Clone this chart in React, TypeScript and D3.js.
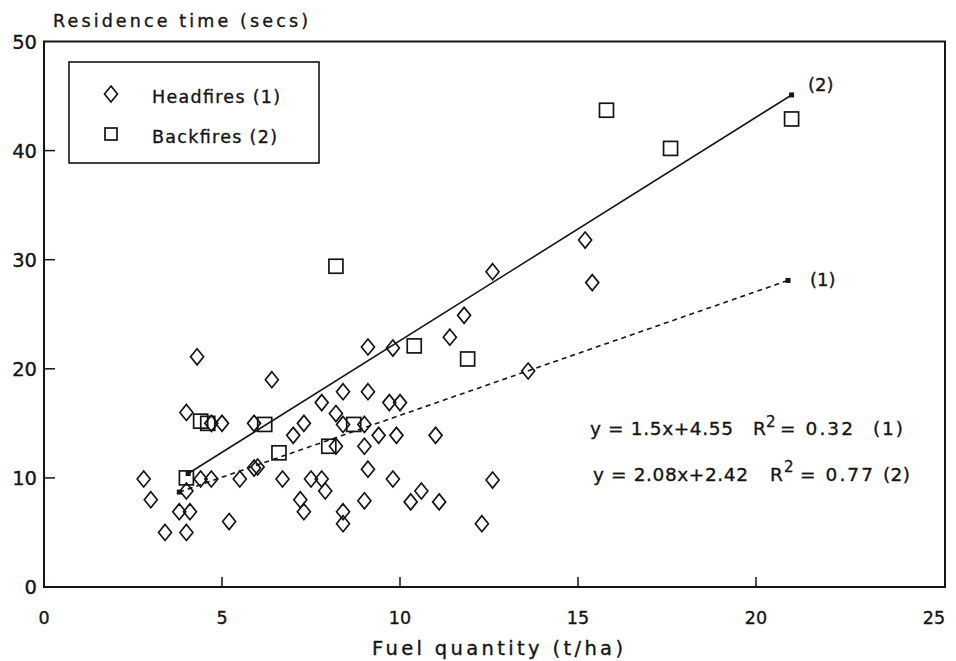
import React from 'react';
import * as d3 from 'd3';

// Headfires (1): [fuel t/ha, residence secs]
const headfires: [number, number][] = [
    [2.8, 9.9], [3.0, 8.0], [3.4, 5.0], [4.0, 5.0], [3.8, 6.9], [4.1, 6.9],
    [4.0, 8.8], [4.0, 16.0], [4.3, 21.1], [4.4, 9.9], [4.7, 9.9], [4.7, 15.0],
    [5.0, 15.0], [5.2, 6.0], [5.5, 9.9], [5.9, 15.0], [6.0, 11.0], [5.9, 10.9],
    [6.4, 19.0], [6.7, 9.9], [7.0, 13.9], [7.2, 8.0], [7.3, 6.9], [7.3, 15.0],
    [7.5, 9.9], [7.8, 9.9], [7.9, 8.8], [7.8, 16.9], [8.2, 15.9], [8.2, 12.9],
    [8.4, 17.9], [8.4, 14.9], [8.4, 6.9], [8.4, 5.8], [9.0, 14.9], [9.0, 12.9],
    [9.1, 22.0], [9.1, 10.8], [9.0, 7.9], [9.1, 17.9], [9.4, 13.9], [9.7, 16.9],
    [10.0, 16.9], [9.8, 21.9], [9.8, 9.9], [9.9, 13.9], [10.3, 7.8], [10.6, 8.8],
    [11.0, 13.9], [11.1, 7.8], [11.4, 22.9], [11.8, 24.9], [12.3, 5.8], [12.6, 28.9],
    [12.6, 9.8], [13.6, 19.8], [15.2, 31.8], [15.4, 27.9]
];

// Backfires (2)
const backfires: [number, number][] = [
    [4.0, 10.0], [4.4, 15.2], [4.6, 15.0], [6.2, 14.9], [6.6, 12.3], [8.0, 12.9],
    [8.7, 14.9], [8.2, 29.4], [10.4, 22.1], [11.9, 20.9], [15.8, 43.7], [17.6, 40.2],
    [21.0, 42.9]
];

// regression lines as drawn (end points)
const fitHead: [number, number][] = [[3.8, 8.7], [20.9, 28.1]];
const fitBack: [number, number][] = [[4.05, 10.4], [21.0, 45.1]];

const xTicks = [0, 5, 10, 15, 20, 25];
const yTicks = [0, 10, 20, 30, 40, 50];

const FONT = "'DejaVu Sans', sans-serif";
const INK = '#151515';
const FRAME_RIGHT = 945;

const x = d3.scaleLinear().domain([0, 25]).range([44, 934]);
const y = d3.scaleLinear().domain([0, 50]).range([587, 41.5]);

const diamond = (cx: number, cy: number) =>
    `M${cx},${cy - 8}L${cx + 6.5},${cy}L${cx},${cy + 8}L${cx - 6.5},${cy}Z`;

const line = d3.line<[number, number]>().x(d => x(d[0])).y(d => y(d[1]));

export default function App() {
    return (
        <svg width={956} height={661} style={{ position: 'absolute', left: 0, top: 0, background: '#fff' }}
            fontFamily={FONT}>
            {/* frame */}
            <rect x={x(0)} y={y(50)} width={FRAME_RIGHT - x(0)} height={y(0) - y(50)}
                fill="none" stroke={INK} strokeWidth={2} />

            <g fill={INK} stroke={INK} strokeWidth={0.35}>
                {/* y axis labels */}
                {yTicks.map(t => (
                    <text key={'yl' + t} x={37} y={y(t) + 7} fontSize={19.5} textAnchor="end">{t}</text>
                ))}
                {/* x axis labels */}
                {xTicks.map(t => (
                    <text key={'xl' + t} x={x(t)} y={624} fontSize={17.5} textAnchor="middle">{t}</text>
                ))}

                <text x={53} y={27} fontSize={17.5} textLength={255} lengthAdjust="spacing">Residence time (secs)</text>
                <text x={372} y={655} fontSize={19.5} textLength={251} lengthAdjust="spacing">Fuel quantity (t/ha)</text>

                <text x={808} y={91} fontSize={18}>(2)</text>
                <text x={810} y={286} fontSize={18}>(1)</text>
            </g>

            {/* ticks */}
            {yTicks.filter(t => t > 0 && t < 50).map(t => (
                <line key={'yt' + t} x1={x(0)} x2={x(0) + 11} y1={y(t)} y2={y(t)} stroke={INK} strokeWidth={1.5} />
            ))}
            {xTicks.filter(t => t > 0 && t < 25).map(t => (
                <line key={'xt' + t} x1={x(t)} x2={x(t)} y1={y(0)} y2={y(0) - 10} stroke={INK} strokeWidth={1.5} />
            ))}

            {/* fitted lines */}
            <path d={line(fitBack) || ''} fill="none" stroke={INK} strokeWidth={1.6} />
            <path d={line(fitHead) || ''} fill="none" stroke={INK} strokeWidth={1.6} strokeDasharray="5,4" />
            {[...fitHead, ...fitBack].map((p, i) => (
                <rect key={'e' + i} x={x(p[0]) - 2.5} y={y(p[1]) - 2.5} width={5} height={5} fill={INK} />
            ))}

            {/* points */}
            {headfires.map((p, i) => (
                <path key={'h' + i} d={diamond(x(p[0]), y(p[1]))} fill="none" stroke={INK} strokeWidth={1.7} />
            ))}
            {backfires.map((p, i) => (
                <rect key={'b' + i} x={x(p[0]) - 7} y={y(p[1]) - 7} width={14} height={14}
                    fill="none" stroke={INK} strokeWidth={1.7} />
            ))}

            {/* legend */}
            <rect x={69} y={62} width={250} height={101} fill="#fff" stroke={INK} strokeWidth={1.6} />
            <path d={diamond(111, 94)} fill="none" stroke={INK} strokeWidth={1.7} />
            <rect x={105} y={128} width={12} height={12} fill="none" stroke={INK} strokeWidth={1.7} />
            <g fill={INK} stroke={INK} strokeWidth={0.35} fontSize={17.5}>
                <text x={152} y={103} textLength={128} lengthAdjust="spacing">Headfires (1)</text>
                <text x={152} y={143} textLength={125} lengthAdjust="spacing">Backfires (2)</text>
            </g>

            {/* equations */}
            <g fontSize={18.5} fill={INK} stroke={INK} strokeWidth={0.35}>
                <text x={590} y={435} textLength={143} lengthAdjust="spacing">y = 1.5x+4.55</text>
                <text x={753} y={435}>R</text>
                <text x={766} y={427} fontSize={15}>2</text>
                <text x={780} y={435} textLength={73} lengthAdjust="spacing">= 0.32</text>
                <text x={873} y={435} textLength={30} lengthAdjust="spacing">(1)</text>

                <text x={593} y={481} textLength={155} lengthAdjust="spacing">y = 2.08x+2.42</text>
                <text x={770} y={481}>R</text>
                <text x={784} y={472} fontSize={15}>2</text>
                <text x={800} y={481} textLength={73} lengthAdjust="spacing">= 0.77</text>
                <text x={883} y={481} textLength={27} lengthAdjust="spacing">(2)</text>
            </g>
        </svg>
    );
}
